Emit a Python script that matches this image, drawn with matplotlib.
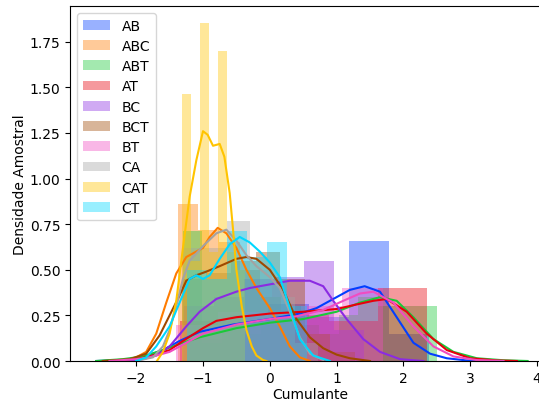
import matplotlib
matplotlib.use("Agg")
import matplotlib.pyplot as plt


labels = ["AB", "ABC", "ABT", "AT", "BC", "BCT", "BT", "CA", "CAT", "CT"]
colors = ["#023eff", "#ff7c00", "#1ac938", "#e8000b", "#8b2be2",
          "#9f4800", "#f14cc1", "#a3a3a3", "#ffc400", "#00d7ff"]

# histogram: first bin edge, bin width, densities
hist_start = [-1.22, -1.38, -1.30, -1.34, -1.29, -1.32, -1.40, -1.32, -1.32, -1.24]
hist_width = [0.60, 0.31, 0.292, 0.74, 0.45, 0.37, 0.62, 0.34, 0.135, 0.30]
hist_AB = [0.12, 0.22, 0.31, 0.24, 0.66, 0.15]
hist_ABC = [0.86, 0.72, 0.65, 0.50, 0.35, 0.15]
hist_ABT = [0.71, 0.10, 0.20, 0.15, 0.20, 0.25, 0.20, 0.15, 0.25, 0.35, 0.30, 0.30, 0.30]
hist_AT = [0.22, 0.25, 0.25, 0.22, 0.40]
hist_BC = [0.30, 0.35, 0.45, 0.46, 0.55, 0.17]
hist_BCT = [0.45, 0.48, 0.55, 0.60, 0.45, 0.15, 0.05]
hist_BT = [0.20, 0.27, 0.27, 0.30, 0.40]
hist_CA = [0.62, 0.62, 0.77, 0.50, 0.35, 0.10]
hist_CAT = [1.466, 0.55, 1.853, 0.60, 1.70, 0.60, 0.50]
hist_CT = [0.50, 0.45, 0.71, 0.57, 0.65, 0.30]

# kde curves read point by point
kde_AB_x = [-2.6, -2.2, -1.9, -1.6, -1.35, -1.05, -0.55, 0.0, 0.45, 0.7, 0.95, 1.2, 1.42, 1.65, 1.9, 2.15, 2.4, 2.65, 2.95, 3.1]
kde_AB_y = [0.0, 0.005, 0.02, 0.06, 0.11, 0.16, 0.20, 0.23, 0.26, 0.29, 0.34, 0.39, 0.41, 0.38, 0.24, 0.10, 0.04, 0.015, 0.003, 0.0]
kde_ABC_x = [-2.3, -2.05, -1.85, -1.7, -1.55, -1.4, -1.25, -1.1, -1.0, -0.9, -0.78, -0.65, -0.5, -0.35, -0.2, 0.0, 0.15, 0.3, 0.45, 0.6]
kde_ABC_y = [0.0, 0.01, 0.05, 0.15, 0.32, 0.48, 0.57, 0.60, 0.62, 0.68, 0.73, 0.70, 0.62, 0.50, 0.40, 0.29, 0.19, 0.08, 0.02, 0.0]
kde_ABT_x = [-2.6, -2.2, -1.9, -1.6, -1.3, -1.05, -0.5, 0.0, 0.5, 1.0, 1.35, 1.65, 1.9, 2.15, 2.45, 2.75, 3.1, 3.5, 3.86]
kde_ABT_y = [0.0, 0.01, 0.025, 0.06, 0.10, 0.13, 0.18, 0.21, 0.23, 0.27, 0.32, 0.35, 0.33, 0.24, 0.12, 0.05, 0.015, 0.004, 0.0]
kde_AT_x = [-2.3, -2.0, -1.8, -1.5, -1.3, -1.0, -0.8, -0.5, 0.0, 0.5, 1.0, 1.3, 1.55, 1.75, 2.05, 2.35, 2.65, 3.0, 3.4, 3.7]
kde_AT_y = [0.0, 0.01, 0.025, 0.06, 0.11, 0.18, 0.22, 0.24, 0.26, 0.27, 0.285, 0.31, 0.33, 0.34, 0.27, 0.15, 0.06, 0.015, 0.003, 0.0]
kde_BC_x = [-2.2, -1.9, -1.7, -1.5, -1.25, -1.05, -0.8, -0.5, -0.3, 0.0, 0.3, 0.6, 0.8, 0.95, 1.15, 1.4, 1.65, 1.95, 2.3]
kde_BC_y = [0.0, 0.01, 0.03, 0.08, 0.19, 0.27, 0.34, 0.38, 0.40, 0.42, 0.44, 0.44, 0.41, 0.33, 0.23, 0.12, 0.05, 0.01, 0.0]
kde_BCT_x = [-2.5, -2.1, -1.85, -1.65, -1.5, -1.35, -1.25, -1.1, -0.95, -0.75, -0.5, -0.35, -0.2, 0.0, 0.2, 0.4, 0.6, 0.8, 1.0, 1.2, 1.5]
kde_BCT_y = [0.0, 0.01, 0.04, 0.14, 0.25, 0.36, 0.44, 0.47, 0.49, 0.52, 0.56, 0.57, 0.56, 0.50, 0.39, 0.23, 0.13, 0.07, 0.035, 0.015, 0.0]
kde_BT_x = [-2.4, -2.0, -1.8, -1.5, -1.3, -1.0, -0.5, 0.0, 0.4, 0.8, 1.1, 1.35, 1.55, 1.85, 2.15, 2.45, 2.75, 3.1, 3.5]
kde_BT_y = [0.0, 0.01, 0.02, 0.05, 0.09, 0.15, 0.20, 0.23, 0.245, 0.28, 0.33, 0.37, 0.38, 0.32, 0.19, 0.08, 0.025, 0.005, 0.0]
kde_CA_x = [-2.0, -1.75, -1.6, -1.5, -1.4, -1.3, -1.2, -1.0, -0.8, -0.65, -0.5, -0.35, -0.2, 0.0, 0.15, 0.3, 0.45, 0.6, 0.8]
kde_CA_y = [0.0, 0.02, 0.08, 0.17, 0.30, 0.45, 0.55, 0.63, 0.70, 0.72, 0.66, 0.58, 0.52, 0.46, 0.40, 0.27, 0.13, 0.04, 0.005]
kde_CAT_x = [-1.69, -1.6, -1.5, -1.4, -1.3, -1.2, -1.1, -1.0, -0.93, -0.85, -0.75, -0.68, -0.6, -0.55, -0.5, -0.42, -0.35, -0.27, -0.2, -0.1, -0.05]
kde_CAT_y = [0.0, 0.05, 0.15, 0.33, 0.62, 0.90, 1.10, 1.26, 1.24, 1.18, 1.19, 1.12, 0.92, 0.72, 0.50, 0.30, 0.17, 0.08, 0.03, 0.005, 0.0]
kde_CT_x = [-2.0, -1.85, -1.7, -1.5, -1.35, -1.2, -1.1, -1.0, -0.9, -0.75, -0.6, -0.45, -0.3, -0.15, 0.0, 0.15, 0.3, 0.45, 0.65, 0.9]
kde_CT_y = [0.0, 0.02, 0.08, 0.19, 0.32, 0.45, 0.47, 0.45, 0.47, 0.56, 0.64, 0.68, 0.65, 0.60, 0.54, 0.46, 0.29, 0.12, 0.03, 0.0]

hists = [hist_AB, hist_ABC, hist_ABT, hist_AT, hist_BC, hist_BCT, hist_BT, hist_CA, hist_CAT, hist_CT]
kdes = [(kde_AB_x, kde_AB_y), (kde_ABC_x, kde_ABC_y), (kde_ABT_x, kde_ABT_y), (kde_AT_x, kde_AT_y),
        (kde_BC_x, kde_BC_y), (kde_BCT_x, kde_BCT_y), (kde_BT_x, kde_BT_y), (kde_CA_x, kde_CA_y),
        (kde_CAT_x, kde_CAT_y), (kde_CT_x, kde_CT_y)]


fig = plt.figure(figsize=(5.39, 4.02), dpi=100)
ax = fig.add_axes([0.13, 0.0995, 0.891, 0.883])

for i in range(len(labels)):
    h = hists[i]
    lefts = [hist_start[i] + k * hist_width[i] for k in range(len(h))]
    ax.bar(lefts, h, width=hist_width[i], align="edge", color=colors[i],
           alpha=0.4, linewidth=0, label=labels[i])
    kx, ky = kdes[i]
    ax.plot(kx, ky, color=colors[i], lw=1.5)

ax.set_xlim(-2.99, 4.2)
ax.set_ylim(0, 1.946)
ax.set_yticks([0, 0.25, 0.5, 0.75, 1.0, 1.25, 1.5, 1.75])
ax.set_xticks([-2, -1, 0, 1, 2, 3, 4])
ax.set_xlabel("Cumulante", labelpad=1.5)
ax.set_ylabel("Densidade Amostral", labelpad=2)
ax.legend(loc="upper left", labelspacing=0.45)

fig.savefig("out.png", dpi=100)
